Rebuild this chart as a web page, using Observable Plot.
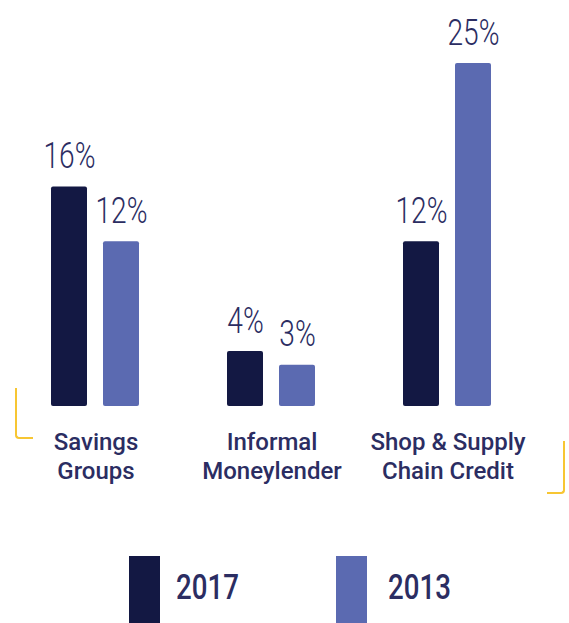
<!DOCTYPE html>
<html><head><meta charset="utf-8">
<script src="https://cdn.jsdelivr.net/npm/d3@7"></script>
<script src="https://cdn.jsdelivr.net/npm/@observablehq/plot@0.6"></script>
<style>
html,body{margin:0;padding:0;background:#fff;}
#wrap{position:relative;width:569px;height:623px;overflow:hidden;}
#chart svg{display:block;}
.br{position:absolute;border-color:#f7c633;border-style:solid;border-width:0;}
.sw{position:absolute;width:31px;height:80px;}
.lt{position:absolute;font-family:Roboto,sans-serif;font-size:35px;line-height:35px;color:#2b2d62;font-weight:500;transform:scaleX(0.79);transform-origin:left top;}
</style></head><body>
<div id="wrap"><div id="chart"></div><div id="legend"></div></div>
<script>
const categories = ["Savings Groups", "Informal Moneylender", "Shop & Supply Chain Credit"];
const categoryLabels = ["Savings\nGroups", "Informal\nMoneylender", "Shop & Supply\nChain Credit"];
const years = ["2017", "2013"];
const values2017 = [16, 4, 12];
const values2013 = [12, 3, 25];
const colors = ["#131843", "#5b6ab1"];

const rows = categories.flatMap((c, i) => [
  {category: c, year: years[0], value: values2017[i]},
  {category: c, year: years[1], value: values2013[i]}
]);
const labelRows = categories.map((c, i) => ({category: c, label: categoryLabels[i]}));

const chart = Plot.plot({
  width: 569, height: 550,
  marginLeft: 6, marginRight: 32, marginTop: 63, marginBottom: 144,
  style: {fontFamily: "Roboto, sans-serif", background: "white"},
  fx: {domain: categories, paddingInner: 0.4915, paddingOuter: 0.2458, axis: null, label: null},
  x: {domain: years, paddingInner: 0.302, paddingOuter: 0, axis: null},
  y: {domain: [0, 25], axis: null},
  color: {domain: years, range: colors},
  marks: [
    Plot.barY(rows, {fx: "category", x: "year", y: "value", fill: "year", rx: 2}),
    Plot.text(rows, {fx: "category", x: "year", y: "value", text: d => d.value + "%", lineAnchor: "bottom", dy: -19, fontSize: 37, fontWeight: 300, fill: "#2b2d62", className: "vlab"}),
    Plot.text(labelRows, {fx: "category", frameAnchor: "bottom", text: "label", lineAnchor: "top", dy: 23, fontSize: 24, fontWeight: 500, lineHeight: 1.2, fill: "#2b2d62"})
  ]
});
document.getElementById("chart").appendChild(chart);
// condense the thin value labels
d3.select(chart).selectAll(".vlab text").each(function() {
  const len = this.getComputedTextLength();
  this.setAttribute("textLength", (len * 0.76).toFixed(1));
  this.setAttribute("lengthAdjust", "spacingAndGlyphs");
});

const wrap = document.getElementById("wrap");
function addDiv(cls, style, text) {
  const d = document.createElement("div");
  d.className = cls;
  Object.assign(d.style, style);
  if (text) d.textContent = text;
  wrap.appendChild(d);
}
addDiv("br", {left: "15px", top: "388px", width: "16px", height: "49px", borderLeftWidth: "2px", borderBottomWidth: "2px", borderBottomLeftRadius: "4px"});
addDiv("br", {left: "547px", top: "441px", width: "16px", height: "51px", borderRightWidth: "2px", borderBottomWidth: "2px", borderBottomRightRadius: "4px"});
const legendX = [129, 336];
const legendTextX = [176, 388];
years.forEach((y, i) => {
  addDiv("sw", {left: legendX[i] + "px", top: "556px", background: colors[i]});
  addDiv("lt", {left: legendTextX[i] + "px", top: "570px"}, y);
});
</script>
</body></html>
